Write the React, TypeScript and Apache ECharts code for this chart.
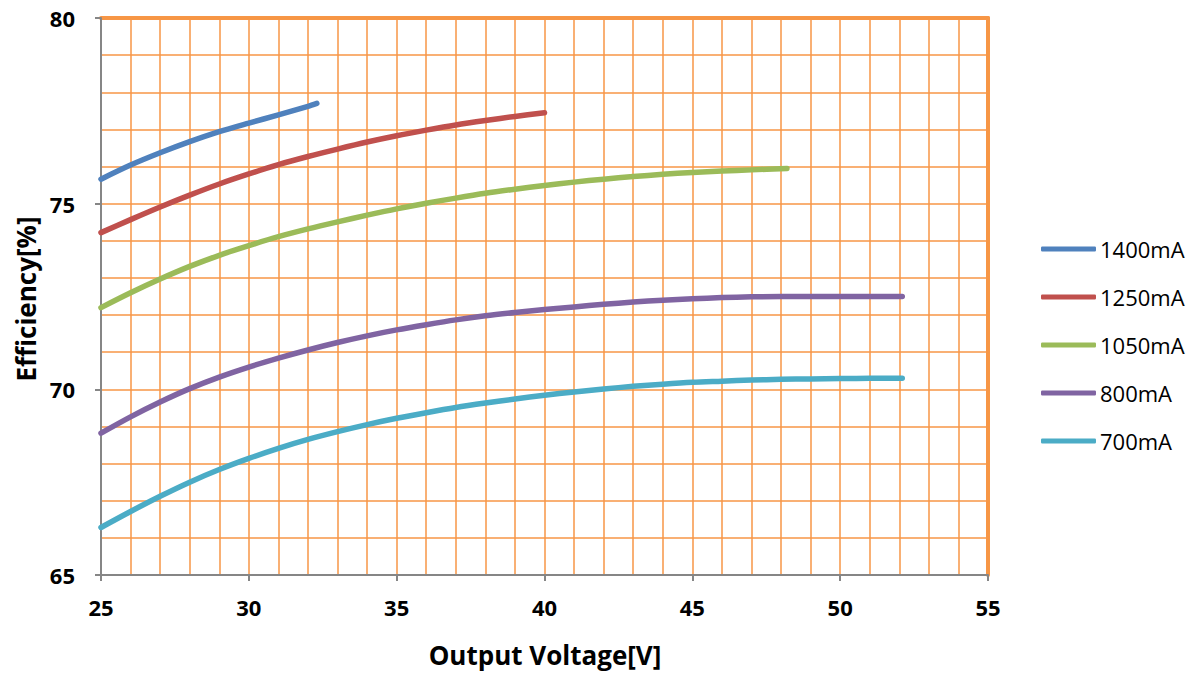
import React, { useEffect, useRef } from "react";
import * as echarts from "echarts";

const seriesNames = ["1400mA", "1250mA", "1050mA", "800mA", "700mA"];
const seriesColors = ["#4F81BD", "#C0504D", "#9BBB59", "#8064A2", "#4BACC6"];

const volt1400 = [25, 26, 27, 28, 29, 30, 31, 32, 32.3];
const eff1400 = [75.66, 76.04, 76.37, 76.67, 76.94, 77.17, 77.39, 77.62, 77.7];

const volt1250 = [25, 26, 27, 28, 29, 30, 31, 32, 33, 34, 35, 36, 37, 38, 39, 40];
const eff1250 = [74.22, 74.57, 74.91, 75.23, 75.53, 75.8, 76.05, 76.27, 76.47, 76.66, 76.83, 76.98, 77.12, 77.24, 77.35, 77.45];

const volt1050 = [25, 26, 27, 28, 29, 30, 31, 32, 33, 34, 35, 36, 37, 38, 39, 40, 41, 42, 43, 44, 45, 46, 47, 48.2];
const eff1050 = [72.2, 72.6, 72.97, 73.31, 73.61, 73.87, 74.11, 74.32, 74.51, 74.69, 74.86, 75.01, 75.15, 75.28, 75.39, 75.49, 75.58, 75.66, 75.73, 75.79, 75.84, 75.88, 75.91, 75.95];

const volt800 = [25, 26, 27, 28, 29, 30, 31, 32, 33, 34, 35, 36, 37, 38, 39, 40, 41, 42, 43, 44, 45, 46, 47, 48, 49, 50, 51, 52.1];
const eff800 = [68.82, 69.26, 69.66, 70.02, 70.33, 70.6, 70.84, 71.06, 71.26, 71.44, 71.6, 71.74, 71.87, 71.98, 72.07, 72.15, 72.22, 72.29, 72.35, 72.4, 72.44, 72.47, 72.49, 72.5, 72.5, 72.5, 72.5, 72.5];

const volt700 = [25, 26, 27, 28, 29, 30, 31, 32, 33, 34, 35, 36, 37, 38, 39, 40, 41, 42, 43, 44, 45, 46, 47, 48, 49, 50, 51, 52.1];
const eff700 = [66.28, 66.71, 67.12, 67.5, 67.84, 68.14, 68.41, 68.65, 68.86, 69.05, 69.22, 69.37, 69.51, 69.63, 69.74, 69.84, 69.93, 70.01, 70.08, 70.14, 70.19, 70.22, 70.25, 70.27, 70.28, 70.29, 70.3, 70.3];

const xTitle = "Output Voltage[V]";
const yTitle = "Efficiency[%]";

const allVolts = [volt1400, volt1250, volt1050, volt800, volt700];
const allEffs = [eff1400, eff1250, eff1050, eff800, eff700];

const ORANGE = "#F79646";
const GRAY = "#868686";
const FONT = "Open Sans";

export default function App() {
  const ref = useRef<HTMLDivElement>(null);
  useEffect(() => {
    if (!ref.current) return;
    const chart = echarts.init(ref.current, null, { renderer: "svg" });
    const splitStyle = { show: true, lineStyle: { color: ORANGE, width: 1.5 } };
    chart.setOption({
      animation: false,
      backgroundColor: "#ffffff",
      grid: { left: 101, top: 18, right: 209, bottom: 99, containLabel: false },
      legend: {
        orient: "vertical",
        left: 1041,
        top: 237,
        padding: 0,
        itemWidth: 55,
        itemHeight: 5,
        itemGap: 24,
        icon: "roundRect",
        data: seriesNames,
        textStyle: { fontFamily: FONT, fontSize: 22, color: "#000", lineHeight: 24, padding: [0, 0, 0, -1] },
      },
      xAxis: [
        {
          type: "value",
          min: 25,
          max: 55,
          interval: 5,
          position: "bottom",
          axisLine: { show: true, onZero: false, lineStyle: { color: GRAY, width: 2 } },
          axisTick: { show: true, inside: false, length: 6, lineStyle: { color: GRAY, width: 2 } },
          axisLabel: { margin: 21, fontFamily: FONT, fontSize: 22, fontWeight: "bold", color: "#000" },
          splitLine: splitStyle,
          minorTick: { show: false, splitNumber: 5 },
          minorSplitLine: splitStyle,
          z: 5,
        },
        {
          type: "value",
          min: 25,
          max: 55,
          interval: 5,
          position: "top",
          axisLine: { show: true, onZero: false, lineStyle: { color: ORANGE, width: 4 } },
          axisTick: { show: false },
          axisLabel: { show: false },
          splitLine: { show: false },
        },
      ],
      yAxis: [
        {
          type: "value",
          min: 65,
          max: 80,
          interval: 5,
          position: "left",
          axisLine: { show: true, onZero: false, lineStyle: { color: GRAY, width: 2 } },
          axisTick: { show: true, inside: false, length: 6, lineStyle: { color: GRAY, width: 2 } },
          axisLabel: { margin: 26, fontFamily: FONT, fontSize: 22, fontWeight: "bold", color: "#000" },
          splitLine: splitStyle,
          minorTick: { show: false, splitNumber: 5 },
          minorSplitLine: splitStyle,
          z: 5,
        },
        {
          type: "value",
          min: 65,
          max: 80,
          interval: 5,
          position: "right",
          axisLine: { show: true, onZero: false, lineStyle: { color: ORANGE, width: 4 } },
          axisTick: { show: false },
          axisLabel: { show: false },
          splitLine: { show: false },
        },
      ],
      graphic: [
        {
          type: "text",
          x: 545,
          y: 655,
          style: { text: xTitle, fontFamily: FONT, fontSize: 26, fontWeight: "bold", fill: "#000", align: "center", verticalAlign: "middle" },
        },
        {
          type: "text",
          x: 26,
          y: 299,
          rotation: Math.PI / 2,
          style: { text: yTitle, fontFamily: FONT, fontSize: 26, fontWeight: "bold", fill: "#000", align: "center", verticalAlign: "middle" },
        },
      ],
      series: seriesNames.map((name, i) => ({
        name,
        type: "line",
        xAxisIndex: 0,
        yAxisIndex: 0,
        data: allVolts[i].map((v, j) => [v, allEffs[i][j]]),
        smooth: 0.3,
        showSymbol: false,
        symbol: "none",
        color: seriesColors[i],
        lineStyle: { width: 5.5, color: seriesColors[i], cap: "round", join: "round" },
        z: 10,
      })),
    });
    return () => chart.dispose();
  }, []);
  return <div ref={ref} style={{ position: "fixed", left: 0, top: 0, width: 1197, height: 674 }} />;
}
